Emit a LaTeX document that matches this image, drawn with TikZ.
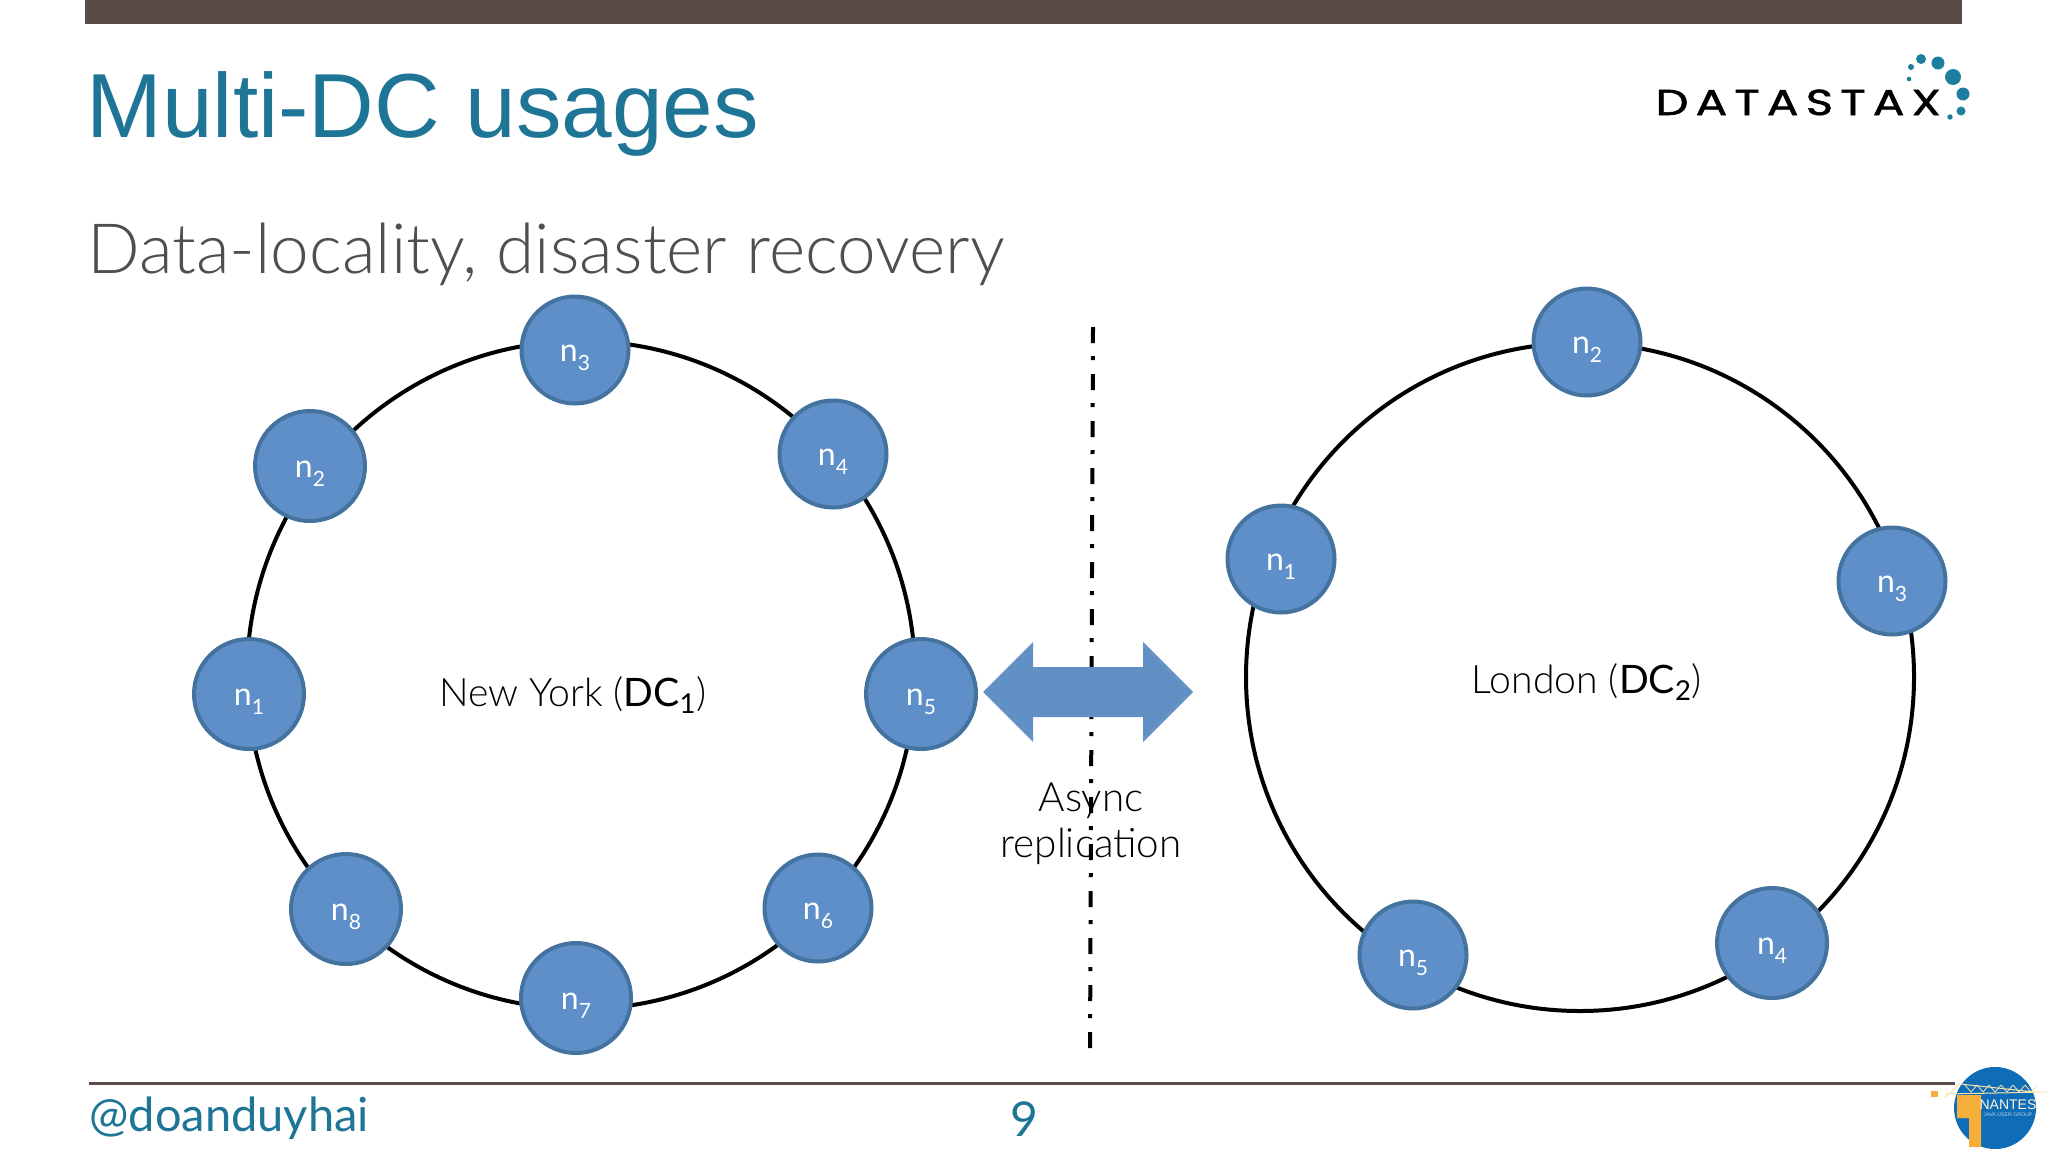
\documentclass[tikz,border=0pt]{standalone}
\usepackage{fontspec}
\setmainfont[BoldFont={Lato}]{Lato Light}
\newfontfamily\titlefont{Liberation Sans}
\newfontfamily\plainfont{Lato}
\newfontfamily\logofont[FakeStretch=1.3,LetterSpace=20,FakeBold=1.5]{Poppins}
\definecolor{teal1}{HTML}{1F7596}
\definecolor{bar1}{HTML}{5A4A48}
\definecolor{gray1}{HTML}{4F4F4F}
\definecolor{node1}{HTML}{5F8FC8}
\definecolor{edge1}{HTML}{44739F}
\definecolor{arrow1}{HTML}{6090C4}
\definecolor{dot1}{HTML}{1C7F9F}
\definecolor{jugblue}{HTML}{0F6CB6}
\definecolor{jugorange}{HTML}{F6AE3A}
\definecolor{jugpale}{HTML}{F8E3B0}
\newcommand{\nsub}[1]{\raisebox{-5.5pt}[0pt][0pt]{n\raisebox{-0.3em}{\fontsize{10.5}{12}\selectfont #1}}}
\tikzset{
  dcnode/.style={circle,draw=edge1,line width=2pt,fill=node1,text=white,inner sep=0pt,minimum size=53.5pt,font=\plainfont\fontsize{16}{18}\selectfont},
  bignode/.style={dcnode,minimum size=55pt},
  ringnode/.style={circle,draw=black,line width=2pt,inner sep=0pt,minimum size=334pt},
  dclabel/.style={font=\fontsize{19.6}{23}\selectfont,text=black},
  logodot/.style={fill=dot1,draw=none}
}
\begin{document}
\begin{tikzpicture}[x=0.5pt,y=-0.5pt]
  \useasboundingbox (0,0) rectangle (2048,1152);
  % slide frame
  \fill[bar1] (85,0) rectangle (1962,24);
  \node[anchor=base west,inner sep=0pt,text=teal1,font=\titlefont\fontsize{45.5}{50}\selectfont] (title) at (86,137) {Multi-DC usages};
  \node[anchor=base west,inner sep=0pt,text=gray1,font=\fontsize{34.7}{40}\selectfont] (subtitle) at (87,273) {Data-locality, disaster recovery};
  % logo
  \node[anchor=base west,inner sep=0pt,text=black,font=\logofont\fontsize{18}{20}\selectfont] (logo) at (1655,115) {DATASTAX};
  \foreach \x/\y/\r in {1911/67/3,1921/59/5,1938/63/6.5,1953/77/8,1963/94/6.5,1961/111/4.5,1950/117/2.7,1909/79/2.3}
    \fill[logodot] (\x,\y) circle [radius=\r*0.5pt];
  % first ring
  \node[ringnode] (ringa) at (581,675) {};
  \node[dclabel] (labela) at (573,695) {New York (\textbf{DC\textsubscript{1}})};
  \node[bignode] (an1) at (249,694) {\nsub{1}};
  \node[bignode] (an2) at (310,466) {\nsub{2}};
  \node[dcnode] (an3) at (575,350) {\nsub{3}};
  \node[dcnode] (an4) at (833,454) {\nsub{4}};
  \node[bignode] (an5) at (921,694) {\nsub{5}};
  \node[dcnode] (an6) at (818,908) {\nsub{6}};
  \node[bignode] (an7) at (576,998) {\nsub{7}};
  \node[bignode] (an8) at (346,909) {\nsub{8}};
  % second ring
  \node[ringnode] (ringb) at (1580,677) {};
  \node[dclabel] (labelb) at (1587,682) {London (\textbf{DC\textsubscript{2}})};
  \node[dcnode] (bn1) at (1281,559) {\nsub{1}};
  \node[dcnode] (bn2) at (1587,342) {\nsub{2}};
  \node[dcnode] (bn3) at (1892,581) {\nsub{3}};
  \node[bignode] (bn4) at (1772,943) {\nsub{4}};
  \node[dcnode] (bn5) at (1413,955) {\nsub{5}};
  % separator and replication arrow
  \coordinate (septop) at (1093,327);
  \coordinate (sepbottom) at (1090,1053);
  \draw[black,line width=2pt,dash pattern=on 8pt off 6.5pt on 2pt off 7pt] (septop) -- (sepbottom);
  \fill[arrow1] (983,692) -- (1033,642) -- (1033,667) -- (1143,667) -- (1143,642) -- (1193,692) -- (1143,742) -- (1143,717) -- (1033,717) -- (1033,742) -- cycle;
  \node[dclabel,align=center,font=\fontsize{20.2}{23}\selectfont] (async) at (1091,824) {Async\\replication};
  % footer
  \draw[bar1,line width=1.5pt] (89,1083) -- (1955,1083);
  \node[anchor=base west,inner sep=0pt,text=teal1,font=\plainfont\fontsize{23.5}{28}\selectfont] (handle) at (89,1131) {@doanduyhai};
  \node[text=teal1,font=\plainfont\fontsize{24}{28}\selectfont] (page) at (1024,1119) {9};
  % user group badge
  \fill[jugblue] (1995,1108) circle [radius=20.5pt];
  \draw[jugpale,line width=0.5pt] (1945,1094) -- (2047,1092) (1945,1097) -- (1960,1084) -- (2035,1092);
  \foreach \x in {1965,1977,1989,2001,2013,2025}
    \draw[jugpale,line width=0.4pt] (\x,1085) -- (\x+6,1092) -- (\x+12,1085);
  \fill[jugorange] (1931,1091) rectangle (1938,1097);
  \fill[jugorange] (1957,1095) -- (1981,1095) -- (1981,1147) -- (1969,1147) -- (1969,1118) -- (1957,1118) -- cycle;
  \node[inner sep=0pt,text=white!85!jugorange,font=\titlefont\fontsize{7}{9}\selectfont] (nantes) at (2008,1105) {NANTES};
  \node[inner sep=0pt,text=white!70!jugblue,font=\titlefont\fontsize{2.6}{3}\selectfont] (jug) at (2008,1115) {JAVA USER GROUP};
\end{tikzpicture}
\end{document}
